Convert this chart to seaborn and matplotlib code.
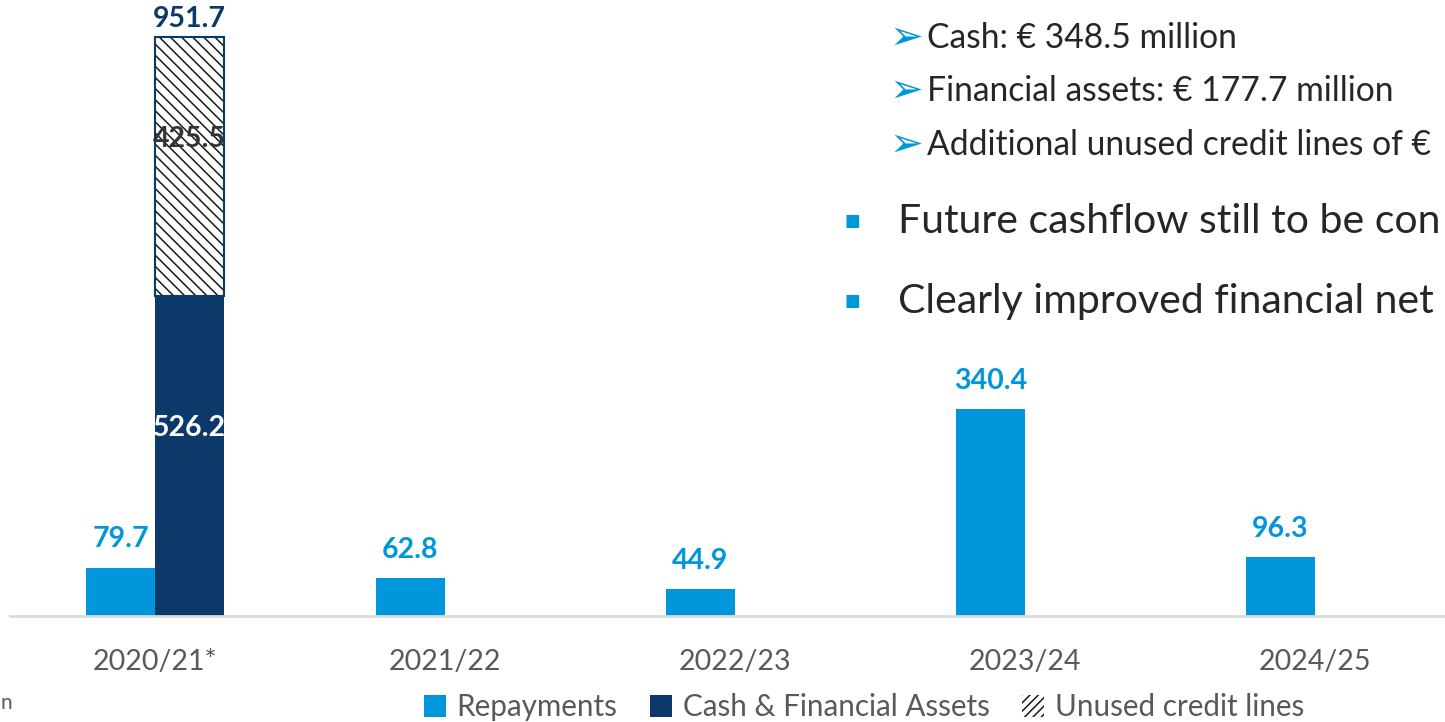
import matplotlib
matplotlib.use("Agg")
import matplotlib.pyplot as plt
import matplotlib.patches as mpatches
import seaborn as sns
import pandas as pd

# ---- data ----
years = ["2020/21*", "2021/22", "2022/23", "2023/24", "2024/25"]
repayments = [79.7, 62.8, 44.9, 340.4, 96.3]
cash_fin_assets = [526.2, 0, 0, 0, 0]
unused_credit = [425.5, 0, 0, 0, 0]
series_names = ["Repayments", "Cash & Financial Assets", "Unused credit lines"]

# side text as visible (cut at the slide edge in the reference)
bullet_sub = ["Cash: € 348.5 million",
              "Financial assets: € 177.7 million",
              "Additional unused credit lines of €"]
bullet_main = ["Future cashflow still to be con",
               "Clearly improved financial net"]
note_text = "n"

BLUE = "#0097DA"
NAVY = "#0B3A6A"
GRAY_TXT = "#595959"
DARK_TXT = "#262626"

sns.set_theme(style="white")
plt.rcParams["font.family"] = ["Lato", "DejaVu Sans"]
plt.rcParams["hatch.linewidth"] = 1.1

W, H = 1445, 722
fig = plt.figure(figsize=(W / 100, H / 100), dpi=100)
ax = fig.add_axes([10 / W, 1 - 616 / H, 1450 / W, 616 / H])

df = pd.DataFrame({
    "year": years * 2,
    "value": repayments + cash_fin_assets,
    "series": [series_names[0]] * len(years) + [series_names[1]] * len(years),
})
sns.barplot(data=df, x="year", y="value", hue="series",
            hue_order=series_names[:2], palette=[BLUE, NAVY],
            width=0.476, saturation=1, legend=False, ax=ax, linewidth=0)

rep_cont, cash_cont = ax.containers[0], ax.containers[1]

# stacked hatched segment on top of the cash bar
for p, c, u in zip(cash_cont.patches, cash_fin_assets, unused_credit):
    if u > 0:
        bars = ax.bar(p.get_x() + p.get_width() / 2, u, bottom=c, width=p.get_width(),
                      color="white", edgecolor="#1a1a1a", hatch="\\\\\\", linewidth=0)
        b = bars.patches[0]
        ax.add_patch(mpatches.Rectangle(b.get_xy(), b.get_width(), b.get_height(),
                                        fill=False, edgecolor=NAVY, linewidth=1.5))

ax.set_xlim(-0.5, 4.5)
ax.set_ylim(0, 1012.5)

# value labels
for p, v in zip(rep_cont.patches, repayments):
    ax.annotate(f"{v:.1f}", (p.get_x() + p.get_width() / 2, v),
                xytext=(0, 14.5), textcoords="offset points",
                ha="center", va="baseline", fontsize=20.5, fontweight="bold",
                color=BLUE)
for p, c, u in zip(cash_cont.patches, cash_fin_assets, unused_credit):
    if c > 0:
        xc = p.get_x() + p.get_width() / 2
        ax.annotate(f"{c:.1f}", (xc, c / 2), xytext=(0, 20),
                    textcoords="offset points", ha="center", va="center",
                    fontsize=20.5, fontweight="bold", color="white")
        ax.annotate(f"{u:.1f}", (xc, c + u / 2), xytext=(0, 20),
                    textcoords="offset points", ha="center", va="center",
                    fontsize=20.5, fontweight="bold", color="#333333")
        ax.annotate(f"{c + u:.1f}", (xc, c + u), xytext=(0, 7),
                    textcoords="offset points", ha="center", va="baseline",
                    fontsize=20.5, fontweight="bold", color=NAVY)

# axes styling
for s in ["left", "right", "top"]:
    ax.spines[s].set_visible(False)
ax.spines["bottom"].set_color("#D9D9D9")
ax.spines["bottom"].set_linewidth(2)
ax.set_xlabel("")
ax.set_ylabel("")
ax.set_yticks([])
ax.tick_params(axis="x", length=0, pad=24, labelsize=20.5, labelcolor=GRAY_TXT)

# legend
handles = [mpatches.Patch(facecolor=BLUE, edgecolor="none"),
           mpatches.Patch(facecolor=NAVY, edgecolor="none"),
           mpatches.Patch(facecolor="white", edgecolor="#1a1a1a", hatch="////", linewidth=0)]
fig.legend(handles, series_names, loc="center",
           bbox_to_anchor=(864 / W, 1 - 707 / H), ncol=3, frameon=False,
           fontsize=21.3, labelcolor=GRAY_TXT, handlelength=0.75,
           handleheight=0.75, handletextpad=0.35, columnspacing=1.1)

# cut-off note at bottom left
fig.text(0 / W, 1 - 703 / H, note_text, ha="left", va="center",
         fontsize=15, color=GRAY_TXT)

# right-side bullet text
for i, t in enumerate(bullet_sub):
    y = 1 - [38, 91, 145][i] / H
    fig.text(890 / W, y, "➢", ha="left", va="center", fontsize=29,
             color=BLUE, family=["DejaVu Sans"])
    fig.text(927 / W, y, t, ha="left", va="center", fontsize=24.2,
             color=DARK_TXT)
for i, t in enumerate(bullet_main):
    y = 1 - [221, 301][i] / H
    fig.text(845 / W, y, "■", ha="left", va="center", fontsize=12,
             color=BLUE, family=["DejaVu Sans"])
    fig.text(898 / W, y, t, ha="left", va="center", fontsize=29.5,
             color=DARK_TXT)

fig.savefig("out.png", dpi=100)
